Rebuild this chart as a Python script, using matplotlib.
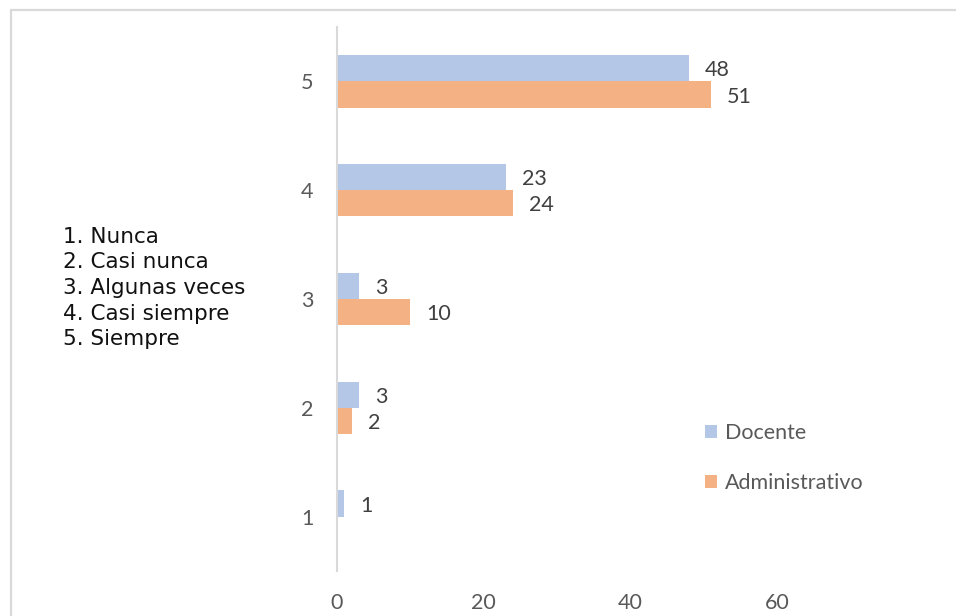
import matplotlib
matplotlib.use("Agg")
import matplotlib.pyplot as plt
from matplotlib.patches import Rectangle
import numpy as np

# Frequency of each answer on the 1-5 scale, by staff type
categories = ["1", "2", "3", "4", "5"]
docente = [1, 3, 3, 23, 48]
administrativo = [0, 2, 10, 24, 51]
series_names = ["Docente", "Administrativo"]
scale_labels = ["1. Nunca", "2. Casi nunca", "3. Algunas veces", "4. Casi siempre", "5. Siempre"]
x_ticks = [0, 20, 40, 60]

BLUE = "#B4C7E7"
ORANGE = "#F4B183"
AXIS_GRAY = "#D9D9D9"
TICK_COLOR = "#595959"
LABEL_COLOR = "#404040"
FONT = "Lato"
FS = 15.5

W, H = 956, 616
fig = plt.figure(figsize=(W / 100, H / 100), dpi=100)
fig.patch.set_facecolor("white")

# chart area border (open at the right and bottom)
fig.add_artist(Rectangle((11 / W, -0.1), 1.2, 1.1 - 10 / H, transform=fig.transFigure,
                         fill=False, edgecolor=AXIS_GRAY, linewidth=1.6))

ax = fig.add_axes([337 / W, 1 - 571 / H, (924 - 337) / W, (571 - 27) / H])

y = np.arange(1, len(categories) + 1)
h = 0.24
b1 = ax.barh(y + h / 2, docente, height=h, color=BLUE, label=series_names[0])
b2 = ax.barh(y - h / 2, administrativo, height=h, color=ORANGE, label=series_names[1])

for bars, vals in [(b1, docente), (b2, administrativo)]:
    for bar, v in zip(bars, vals):
        if v == 0:
            continue
        ax.annotate(str(v), (v, bar.get_y() + bar.get_height() / 2),
                    xytext=(11.5, -1.5), textcoords="offset points",
                    ha="left", va="center", fontsize=FS, color=LABEL_COLOR,
                    family=FONT)

ax.set_xlim(0, 80)
ax.set_ylim(0.5, len(categories) + 0.5)
ax.set_xticks(x_ticks)
ax.set_xticklabels([str(t) for t in x_ticks], fontsize=FS, color=TICK_COLOR, family=FONT)
ax.set_yticks(y)
ax.set_yticklabels(categories, fontsize=FS, color=TICK_COLOR, family=FONT)
ax.tick_params(axis="x", length=0, pad=16)
ax.tick_params(axis="y", length=0, pad=17)

for side in ["top", "right", "bottom"]:
    ax.spines[side].set_visible(False)
ax.spines["left"].set_color(AXIS_GRAY)
ax.spines["left"].set_linewidth(1.5)

leg = fig.legend(handles=[b1, b2], loc="center left",
                 bbox_to_anchor=(705 / W, 1 - 458 / H), frameon=False,
                 prop={"family": FONT, "size": FS}, labelcolor=TICK_COLOR,
                 handlelength=0.58, handleheight=0.58, handletextpad=0.35,
                 labelspacing=1.4, borderpad=0, borderaxespad=0)

# answer scale key on the left
for i, txt in enumerate(scale_labels):
    fig.text(63 / W, 1 - (243 + i * 25.5) / H, txt, fontsize=15.5,
             family="DejaVu Sans", color="#111111", ha="left", va="baseline")

fig.savefig("out.png", dpi=100, facecolor="white")
